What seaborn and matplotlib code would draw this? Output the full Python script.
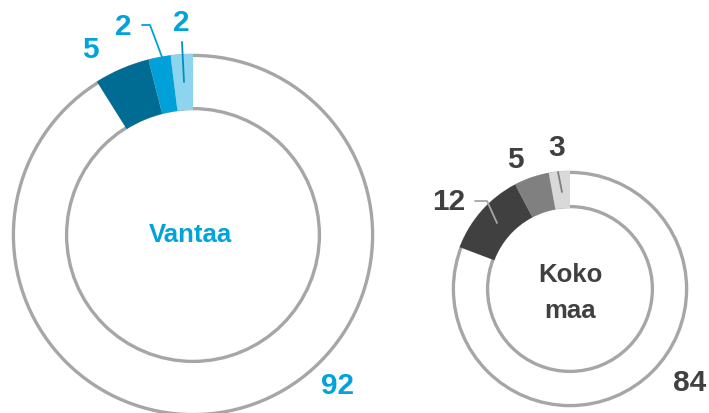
import matplotlib
matplotlib.use("Agg")
import matplotlib.pyplot as plt
import seaborn as sns
from matplotlib.patches import Circle

sns.set_theme(style="white")
plt.rcParams['font.family'] = ['Liberation Sans', 'DejaVu Sans']

# Data
vantaa_labels = ["2", "2", "5", "92"]
vantaa_values = [2, 2, 5, 92]
vantaa_colors = ["#8DD4EF", "#00A1D8", "#006C93", "none"]

koko_labels = ["3", "5", "12", "84"]
koko_values = [3, 5, 12, 84]
koko_colors = ["#D9D9D9", "#808080", "#404040", "none"]

BLUE_TXT = "#00A3DA"
GRAY_TXT = "#404040"
RING = "#A6A6A6"

W, H = 709, 413
fig = plt.figure(figsize=(W / 100, H / 100), dpi=100)
ax = fig.add_axes([0, 0, 1, 1])


def Y(y):
    return H - y


def donut(values, colors, cx, cy, r_out, r_in):
    c = (cx, Y(cy))
    lw = 2.4
    off = 1.4
    for r in (r_out - off, r_in + off):
        ax.add_patch(Circle(c, r, fill=False, edgecolor=RING, lw=lw, zorder=1))
    wedges, _ = ax.pie(values, colors=colors, startangle=90, counterclock=True,
                       center=c, radius=r_out, frame=True,
                       wedgeprops=dict(width=r_out - r_in, linewidth=0, zorder=2))
    return wedges


donut(vantaa_values, vantaa_colors, 193, 235, 181, 125)
donut(koko_values, koko_colors, 570, 289, 118, 81)

fs = 21.5
tfs = 18.5
# Vantaa labels
ax.text(90, Y(50), vantaa_labels[2], color=BLUE_TXT, fontsize=fs, fontweight="bold", ha="center", va="center")
ax.text(123, Y(27), vantaa_labels[1], color=BLUE_TXT, fontsize=fs, fontweight="bold", ha="center", va="center")
ax.text(181, Y(23), vantaa_labels[0], color=BLUE_TXT, fontsize=fs, fontweight="bold", ha="center", va="center")
ax.text(338, Y(386), vantaa_labels[3], color=BLUE_TXT, fontsize=fs, fontweight="bold", ha="center", va="center")
ax.plot([142, 150, 162], [Y(25), Y(25), Y(57)], color="#00A1D8", lw=1.3, zorder=3)
ax.plot([182, 184], [Y(42), Y(82)], color="#0090C0", lw=1.3, zorder=3)
ax.text(190, Y(235), "Vantaa", color=BLUE_TXT, fontsize=tfs, fontweight="bold", ha="center", va="center")

# Koko maa labels
ax.text(449, Y(202), koko_labels[2], color=GRAY_TXT, fontsize=fs, fontweight="bold", ha="center", va="center")
ax.text(515, Y(160), koko_labels[1], color=GRAY_TXT, fontsize=fs, fontweight="bold", ha="center", va="center")
ax.text(557, Y(148), koko_labels[0], color=GRAY_TXT, fontsize=fs, fontweight="bold", ha="center", va="center")
ax.text(690, Y(383), koko_labels[3], color=GRAY_TXT, fontsize=fs, fontweight="bold", ha="center", va="center")
ax.plot([475, 487, 497], [Y(201), Y(201), Y(223)], color=RING, lw=1.3, zorder=3)
ax.plot([558, 562], [Y(172), Y(192)], color="#808080", lw=1.3, zorder=3)
ax.text(570, Y(275), "Koko", color=GRAY_TXT, fontsize=tfs, fontweight="bold", ha="center", va="center")
ax.text(570, Y(311), "maa", color=GRAY_TXT, fontsize=tfs, fontweight="bold", ha="center", va="center")

ax.set_xlim(0, W)
ax.set_ylim(0, H)
ax.set_aspect("equal")
ax.axis("off")

fig.savefig("out.png", dpi=100, facecolor="white")
